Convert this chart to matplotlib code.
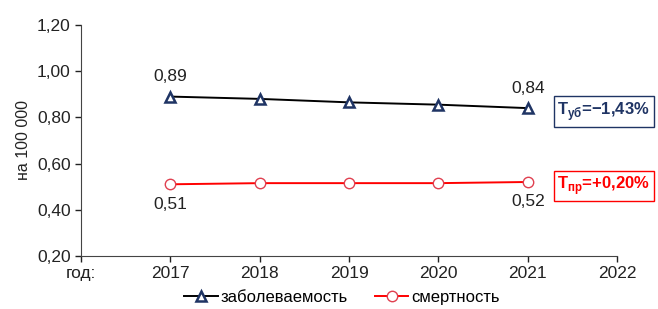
import matplotlib
matplotlib.use('Agg')
import matplotlib.pyplot as plt
import numpy as np

plt.rcParams['font.family'] = ['Liberation Sans', 'DejaVu Sans']

# Данные
years = [2017, 2018, 2019, 2020, 2021]
zabol = [0.89, 0.88, 0.865, 0.855, 0.84]
smert = [0.51, 0.515, 0.515, 0.515, 0.52]
xticks = [2016, 2017, 2018, 2019, 2020, 2021, 2022]
xlabels = ['год:', '2017', '2018', '2019', '2020', '2021', '2022']
yticks = [0.20, 0.40, 0.60, 0.80, 1.00, 1.20]

navy = '#1f3464'
fs = 12.5

fig = plt.figure(figsize=(6.58, 3.09), dpi=100)
ax = fig.add_axes([0.123, 0.172, 0.815, 0.747])

ax.plot(years, zabol, color='black', lw=1.4, marker='^', ms=7.5, mfc='white',
        mec=navy, mew=1.8, label='заболеваемость')
ax.plot(years, smert, color='red', lw=1.4, marker='o', ms=7.5, mfc='white',
        mec='#e04050', mew=1.0, label='смертность')

ax.set_xlim(2016, 2022)
ax.set_ylim(0.2, 1.2)
ax.set_xticks(xticks)
ax.set_xticklabels(xlabels)
ax.set_yticks(yticks)
ax.set_yticklabels([f'{v:.2f}'.replace('.', ',') for v in yticks])
ax.tick_params(labelsize=fs, colors='#222222', length=4, width=1)
ax.tick_params(axis='x', pad=3)
ax.spines['top'].set_visible(False)
ax.spines['right'].set_visible(False)
ax.spines['left'].set_color('#444444')
ax.spines['bottom'].set_color('#444444')
ax.set_ylabel('на 100 000', fontsize=11.5, color='#222222', labelpad=4)

# подписи значений
for i in [0, -1]:
    ax.annotate(f'{zabol[i]:.2f}'.replace('.', ','), (years[i], zabol[i]),
                xytext=(0, 9), textcoords='offset points', ha='center',
                va='bottom', fontsize=fs, color='#222222')
    ax.annotate(f'{smert[i]:.2f}'.replace('.', ','), (years[i], smert[i]),
                xytext=(0, -9), textcoords='offset points', ha='center',
                va='top', fontsize=fs, color='#222222')

fig.text(0.847, 0.639, r'Т$_{\mathregular{уб}}$=−1,43%', fontsize=12, fontweight='bold',
         color=navy, ha='left', va='center',
         bbox=dict(boxstyle='square,pad=0.22', fc='white', ec=navy, lw=1))
fig.text(0.847, 0.398, r'Т$_{\mathregular{пр}}$=+0,20%', fontsize=12, fontweight='bold',
         color='red', ha='left', va='center',
         bbox=dict(boxstyle='square,pad=0.22', fc='white', ec='red', lw=1))

fig.legend(loc='lower center', bbox_to_anchor=(0.52, -0.035), ncol=2, frameon=False,
           fontsize=12, handlelength=2.0, columnspacing=1.6, handletextpad=0.2)

fig.savefig('out.png', dpi=100)
